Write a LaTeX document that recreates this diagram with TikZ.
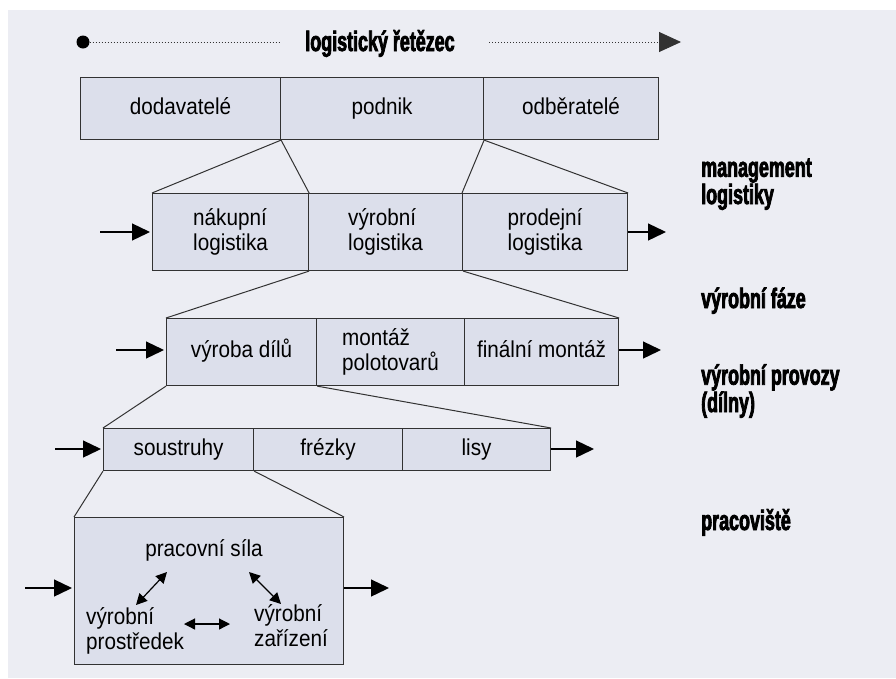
\documentclass[tikz,border=0pt]{standalone}
\usepackage{fontspec}
\setmainfont{Liberation Sans}[FakeStretch=0.9]
\newfontfamily\headfont[FakeStretch=0.64,FakeBold=2.6]{Liberation Sans Bold}
\usetikzlibrary{arrows.meta}

\definecolor{bgcol}{RGB}{236,237,243}
\definecolor{cellcol}{RGB}{220,223,235}
\definecolor{edgecol}{RGB}{50,50,50}

\newcommand{\bodysize}{\fontsize{23}{24.5}\selectfont}
\newcommand{\headsize}{\headfont\fontsize{28}{25}\selectfont}

\begin{document}
\begin{tikzpicture}[x=1pt,y=-1pt,
  cell/.style={draw=edgecol, fill=cellcol, line width=1.1pt, inner sep=0pt,
               anchor=north west, align=left, font=\bodysize},
  oneline/.style={text height=16pt, text depth=5pt},
  twoline/.style={yshift=-3pt},
  txt/.style={inner sep=0pt, align=left, font=\bodysize},
  head/.style={inner sep=0pt, align=left, font=\headsize},
  funnel/.style={draw=edgecol, line width=1pt},
  flow/.style={-{Triangle[length=18pt,width=17pt]}, line width=1.3pt},
  dbl/.style={{Triangle[length=11pt,width=11pt]}-{Triangle[length=11pt,width=11pt]}, line width=1.2pt},
  dotline/.style={draw=edgecol, line width=0.9pt, dash pattern=on 0.9pt off 2.1pt}
]
\useasboundingbox (0,0) rectangle (896,678);
\fill[bgcol] (8,10) rectangle (896,678);

% chain heading
\node[circle, fill, inner sep=0pt, minimum size=13] (dot) at (83,42) {};
\node[head, anchor=base] (title) at (380,51) {logistický řetězec};
\coordinate (d1) at (281,42);
\coordinate (d2) at (489,42);
\coordinate (tip) at (681,42);
\draw[dotline] (dot) -- (d1);
\draw[dotline, -{Triangle[length=22pt,width=20pt]}] (d2) -- (tip);

% level 1
\node[cell, oneline, minimum width=200, minimum height=62] (dod) at (80,77) {dodavatelé};
\node[cell, oneline, minimum width=203, minimum height=62] (pod) at (280,77) {podnik};
\node[cell, oneline, minimum width=175, minimum height=62] (odb) at (483,77) {odběratelé};

% level 2
\node[cell, minimum width=156, minimum height=77] (nak) at (152,193) {nákupní\\logistika};
\node[cell, minimum width=154, minimum height=77] (vyr) at (308,193) {výrobní\\logistika};
\node[cell, minimum width=165, minimum height=77] (pro) at (462,193) {prodejní\\logistika};

% level 3
\node[cell, oneline, minimum width=150, minimum height=67] (dil) at (166,318) {výroba dílů};
\node[cell, minimum width=148, minimum height=67] (mon) at (316,318) {montáž\\polotovarů};
\node[cell, oneline, minimum width=154, minimum height=67] (fin) at (464,318) {finální montáž};

% level 4
\node[cell, oneline, minimum width=150, minimum height=42] (sou) at (103,428) {soustruhy};
\node[cell, oneline, minimum width=149, minimum height=42] (fre) at (253,428) {frézky};
\node[cell, oneline, minimum width=148, minimum height=42] (lis) at (402,428) {lisy};

% level 5: workplace
\node[cell, minimum width=269, minimum height=147] (ws) at (74,517) {};
\node[txt, anchor=base] (sila) at (204,556) {pracovní síla};
\node[txt, anchor=base west] (prostr) at (86,649) {výrobní\\prostředek};
\node[txt, anchor=base west] (zariz) at (254,646) {výrobní\\zařízení};
\coordinate (a1) at (136,605);
\coordinate (a2) at (167,572);
\coordinate (b1) at (249,572);
\coordinate (b2) at (281,604);
\coordinate (c1) at (184,624);
\coordinate (c2) at (230,624);
\draw[dbl] (a1) -- (a2);
\draw[dbl] (b1) -- (b2);
\draw[dbl] (c1) -- (c2);

% zoom-in lines between levels
\draw[funnel] (dod.south east) -- (nak.north west);
\draw[funnel] (dod.south east) -- (nak.north east);
\draw[funnel] (pod.south east) -- (pro.north west);
\draw[funnel] (pod.south east) -- (pro.north east);
\draw[funnel] (nak.south east) -- (dil.north west);
\draw[funnel] (vyr.south east) -- (fin.north east);
\draw[funnel] (dil.south west) -- (sou.north west);
\draw[funnel] (dil.south east) -- (lis.north east);
\draw[funnel] (sou.south west) -- (ws.north west);
\draw[funnel] (sou.south east) -- (ws.north east);

% input and output flows
\coordinate (in2) at (100,232);  \coordinate (out2) at (666,232);
\coordinate (in3) at (116,350);  \coordinate (out3) at (661,350);
\coordinate (in4) at (55,449);   \coordinate (out4) at (594,449);
\coordinate (in5) at (25,588);   \coordinate (out5) at (389,588);
\draw[flow, shorten >=2pt] (in2) -- (nak.west |- in2);
\draw[flow] (pro.east |- out2) -- (out2);
\draw[flow, shorten >=2pt] (in3) -- (dil.west |- in3);
\draw[flow] (fin.east |- out3) -- (out3);
\draw[flow, shorten >=2pt] (in4) -- (sou.west |- in4);
\draw[flow] (lis.east |- out4) -- (out4);
\draw[flow, shorten >=2pt] (in5) -- (ws.west |- in5);
\draw[flow] (ws.east |- out5) -- (out5);

% level captions
\node[head, anchor=base west] (cap1) at (701,204) {management\\logistiky};
\node[head, anchor=base west] (cap2) at (701,308) {výrobní fáze};
\node[head, anchor=base west] (cap3) at (701,412) {výrobní provozy\\(dílny)};
\node[head, anchor=base west] (cap4) at (701,530) {pracoviště};
\end{tikzpicture}
\end{document}
